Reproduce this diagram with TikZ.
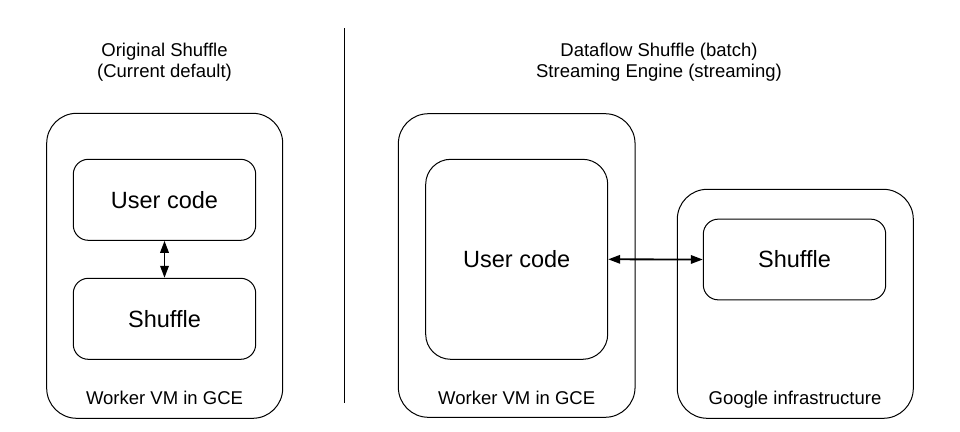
\documentclass[tikz,border=0pt]{standalone}
\usepackage{fontspec}
\setmainfont{Liberation Sans}
\usetikzlibrary{arrows.meta}
\begin{document}
\begin{tikzpicture}[x=1pt,y=-1pt,
  outerbox/.style={draw=black,line width=1pt,rounded corners=30pt,minimum width=#1,inner sep=0pt},
  innerbox/.style={draw=black,line width=1pt,inner sep=0pt,font=\fontsize{23.5}{28}\selectfont},
  lbl/.style={anchor=base,inner sep=0pt,font=\fontsize{18.5}{22}\selectfont},
  link/.style={line width=1.8pt,{Triangle[length=12pt,width=8.5pt]}-{Triangle[length=12pt,width=8.5pt]}}]
\useasboundingbox[fill=white] (0,0) rectangle (960,431);
% divider
\draw[line width=1pt] (344.3,28) -- (344.3,403);
% titles
\node[lbl] (t1a) at (164.5,56) {Original Shuffle};
\node[lbl] (t1b) at (164.5,77.5) {(Current default)};
\node[lbl] (t2a) at (659,56) {Dataflow Shuffle (batch)};
\node[lbl] (t2b) at (659,77.5) {Streaming Engine (streaming)};
% left
\node[outerbox=236pt,minimum height=305pt] (vm1) at (164.7,265.8) {};
\node[innerbox,rounded corners=15pt,minimum width=182.4pt,minimum height=81pt] (uc1) at (164.5,199.8) {User code};
\node[innerbox,rounded corners=15pt,minimum width=182.4pt,minimum height=81pt] (sh1) at (164.5,318.8) {Shuffle};
\node[lbl] (l1) at (164.5,404) {Worker VM in GCE};
\draw[link] (uc1.south) -- (sh1.north);
% right
\node[outerbox=236.7pt,minimum height=303.6pt] (vm2) at (516.7,265.5) {};
\node[innerbox,rounded corners=25pt,minimum width=182pt,minimum height=200pt] (uc2) at (516.7,259.3) {User code};
\node[lbl] (l2) at (516.7,404) {Worker VM in GCE};
\node[outerbox=236pt,minimum height=229pt] (gi) at (795.3,303.8) {};
\node[innerbox,rounded corners=15pt,minimum width=182.4pt,minimum height=80.7pt] (sh2) at (794.5,259.5) {Shuffle};
\node[lbl] (l3) at (795,404.5) {Google infrastructure};
\draw[link] (uc2.east) -- (sh2.west);
\end{tikzpicture}
\end{document}
